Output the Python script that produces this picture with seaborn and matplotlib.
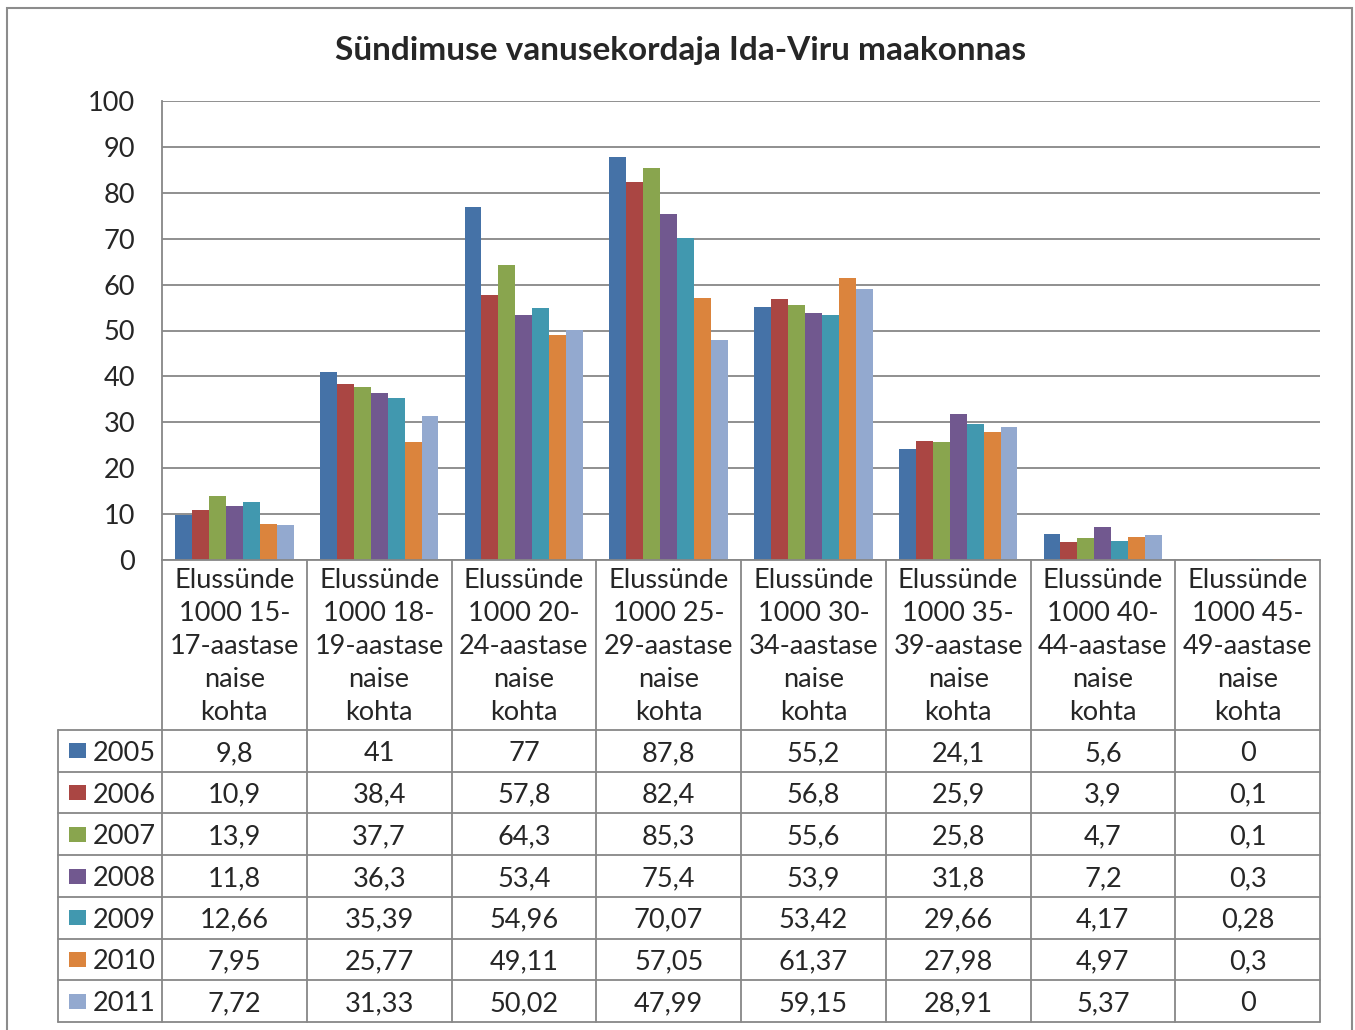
import numpy as np
import pandas as pd
import seaborn as sns
import matplotlib.pyplot as plt
from matplotlib.patches import Rectangle
from matplotlib.transforms import blended_transform_factory

# data
categories = [
    "Elussünde\n1000 15-\n17-aastase\nnaise\nkohta",
    "Elussünde\n1000 18-\n19-aastase\nnaise\nkohta",
    "Elussünde\n1000 20-\n24-aastase\nnaise\nkohta",
    "Elussünde\n1000 25-\n29-aastase\nnaise\nkohta",
    "Elussünde\n1000 30-\n34-aastase\nnaise\nkohta",
    "Elussünde\n1000 35-\n39-aastase\nnaise\nkohta",
    "Elussünde\n1000 40-\n44-aastase\nnaise\nkohta",
    "Elussünde\n1000 45-\n49-aastase\nnaise\nkohta",
]
years = ["2005", "2006", "2007", "2008", "2009", "2010", "2011"]
v2005 = [9.8, 41, 77, 87.8, 55.2, 24.1, 5.6, 0]
v2006 = [10.9, 38.4, 57.8, 82.4, 56.8, 25.9, 3.9, 0.1]
v2007 = [13.9, 37.7, 64.3, 85.3, 55.6, 25.8, 4.7, 0.1]
v2008 = [11.8, 36.3, 53.4, 75.4, 53.9, 31.8, 7.2, 0.3]
v2009 = [12.66, 35.39, 54.96, 70.07, 53.42, 29.66, 4.17, 0.28]
v2010 = [7.95, 25.77, 49.11, 57.05, 61.37, 27.98, 4.97, 0.3]
v2011 = [7.72, 31.33, 50.02, 47.99, 59.15, 28.91, 5.37, 0]
series = [v2005, v2006, v2007, v2008, v2009, v2010, v2011]

colors = ["#4572A7", "#AA4643", "#89A54E", "#71588F", "#4198AF", "#DB843D", "#93A9CF"]
grid_col = "#878787"
fs = 19.5

df = pd.DataFrame({
    "kat": np.tile(categories, len(years)),
    "aasta": np.repeat(years, len(categories)),
    "vaartus": np.concatenate(series),
})

sns.set_style("white")
plt.rcParams["font.family"] = ["Lato", "DejaVu Sans"]

fig = plt.figure(figsize=(13.55, 10.3), dpi=100)
ax = fig.add_axes([162 / 1355, 1 - 560 / 1030, 1158 / 1355, 459 / 1030])

sns.barplot(data=df, x="kat", y="vaartus", hue="aasta", palette=colors,
            width=0.82, saturation=1, legend=False, ax=ax,
            edgecolor="none", linewidth=0)

ax.set_xlim(-0.5, len(categories) - 0.5)
ax.set_ylim(0, 100)
ax.set_yticks(range(0, 101, 10))
ax.set_xticks([])
ax.set_xlabel("")
ax.set_ylabel("")
ax.tick_params(axis="y", length=0, pad=19.5, labelsize=fs)
ax.yaxis.grid(True, color=grid_col, linewidth=1.3)
ax.set_axisbelow(True)
for s in ["top", "right"]:
    ax.spines[s].set_visible(False)
for s in ["left", "bottom"]:
    ax.spines[s].set_color(grid_col)
    ax.spines[s].set_linewidth(1.3)

fig.text(0.502, 0.951, "Sündimuse vanusekordaja Ida-Viru maakonnas",
         ha="center", va="center", fontsize=24, fontweight="bold")

# data table under the plot
tr = blended_transform_factory(ax.transData, ax.transAxes)
n = len(categories)
px = 1158 / n                      # pixels per category
left = -0.5 - (162 - 58) / px      # left edge of the row-label column
head_bot = -170 / 459
row_h = (1022 - 730) / 7 / 459
bottom = head_bot - row_h * len(years)
lkw = dict(color=grid_col, linewidth=1.3, transform=tr, clip_on=False)

for i, cat in enumerate(categories):
    ax.text(i, head_bot / 2 - 0.003, cat, transform=tr, ha="center", va="center",
            fontsize=fs, linespacing=1.40)
for i in range(n + 1):
    ax.plot([i - 0.5, i - 0.5], [0, bottom], **lkw)
ax.plot([left, left], [head_bot, bottom], **lkw)
for r in range(len(years) + 1):
    y = head_bot - r * row_h
    ax.plot([left, n - 0.5], [y, y], **lkw)

dy = 2.5 / 459
for r, (yr, vals) in enumerate(zip(years, series)):
    yc = head_bot - (r + 0.5) * row_h
    ax.add_patch(Rectangle((left + 11 / px, yc - 7.5 / 459), 17 / px, 15 / 459,
                           facecolor=colors[r], edgecolor="none",
                           transform=tr, clip_on=False))
    ax.text(left + 35 / px, yc - dy, yr, transform=tr, ha="left", va="center", fontsize=fs)
    for i, v in enumerate(vals):
        ax.text(i, yc - dy, f"{v:g}".replace(".", ","), transform=tr,
                ha="center", va="center", fontsize=fs)

# chart area frame
fig.patches.append(Rectangle((7 / 1355, -0.02), 1345 / 1355, 1 - 8 / 1030 + 0.02,
                             transform=fig.transFigure, fill=False,
                             edgecolor="#8c8c8c", linewidth=1.5))

fig.savefig("out.png", dpi=100)
